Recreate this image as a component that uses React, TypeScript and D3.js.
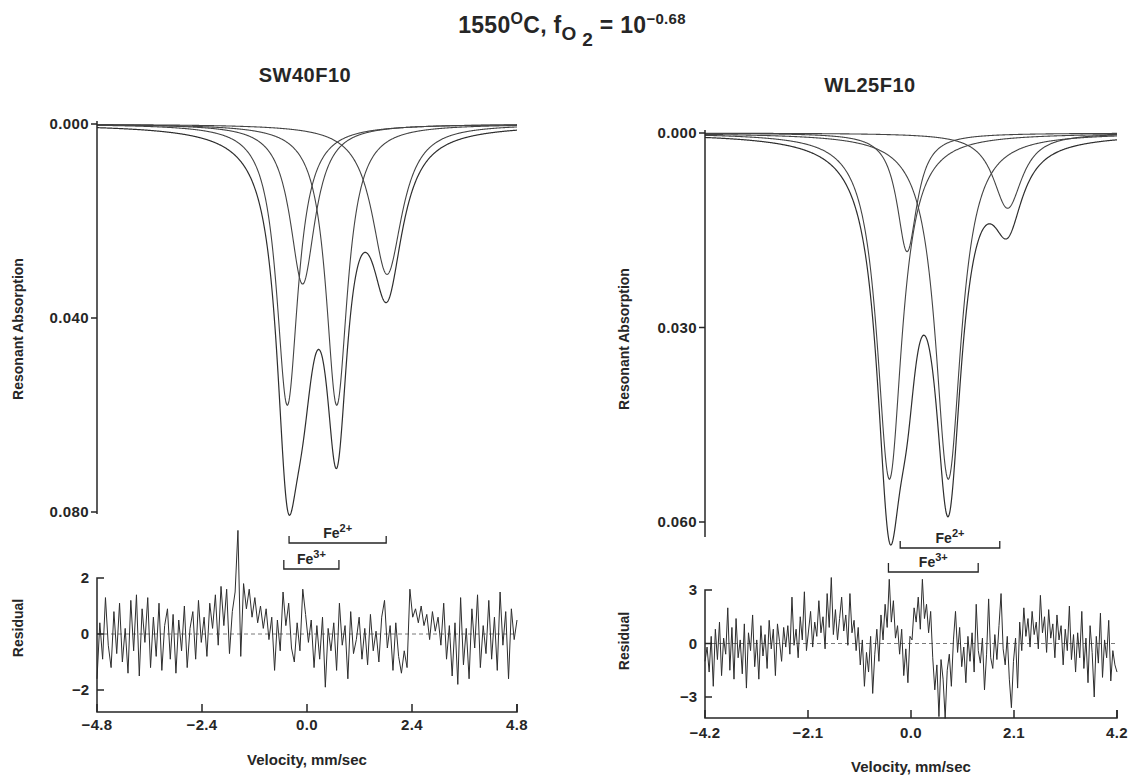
import React, { useRef, useEffect } from "react";
import * as d3 from "d3";

// Lorentzian lines: centre (mm/s), depth, half width (mm/s)
const swCentres = [-0.45, 0.68, -0.1, 1.83];
const swDepths = [0.058, 0.058, 0.033, 0.031];
const swWidths = [0.3, 0.3, 0.35, 0.42];

const wlCentres = [-0.44, 0.76, -0.08, 1.97];
const wlDepths = [0.0534, 0.0534, 0.0183, 0.0116];
const wlWidths = [0.31, 0.32, 0.25, 0.36];

// residuals, evenly spaced over the velocity range
const swResidual = [
  -1.6, 0.4, -0.9, 1.3, -0.4, -1.2, 0.8, -0.7, 1.1, -1.0,
  0.2, -1.4, 1.2, -0.6, 1.4, -1.5, 0.9, -0.3, 1.3, -1.2,
  0.6, -0.8, 1.1, -1.3, 0.3, 0.9, -0.9, 0.7, -1.4, 0.5,
  -0.6, 1.0, -1.2, 0.2, 0.8, -0.9, 1.2, -0.3, 0.6, -0.8,
  1.1, 0.2, 1.4, -0.4, 1.7, 0.3, 1.6, -0.7, 0.8, 1.5,
  3.7, -0.8, 1.8, 0.9, 1.6, 0.6, 1.3, 0.4, 1.0, 0.2,
  0.9, -0.2, 0.6, -1.3, 0.5, -0.6, 1.5, 0.3, 1.1, -0.5,
  -1.0, 0.4, -0.6, 1.6, 0.7, -0.3, 0.5, -1.2, 0.3, -0.9,
  0.6, -1.9, 0.2, -0.6, 0.4, -1.3, 1.1, -0.4, 0.3, -1.6,
  0.8, -0.7, -0.2, 0.6, -0.9, 0.2, -1.1, 0.7, -0.6, 0.1,
  -1.0, 0.6, 1.2, -0.5, 0.3, -1.3, 0.4, -0.8, -1.4, -0.6,
  -1.2, 1.6, 0.6, 0.9, 0.4, 1.0, 0.3, 0.7, -0.2, 0.8,
  0.1, 0.6, -0.4, 1.1, -0.9, 0.3, -1.5, 0.4, -1.8, 1.3,
  -1.1, 0.2, -1.6, 0.9, -0.5, 1.4, -1.2, 0.3, -0.7, 1.2,
  -0.9, 0.6, -1.3, 1.5, -0.4, 0.8, -1.6, 0.9, -0.2, 0.5,
];

const wlResidual = [
  -1.0, -0.2, -1.6, 0.4, -2.4, 0.8, -0.9, 1.2, -1.8, 0.3,
  -0.6, 2.0, -1.5, 0.9, -2.0, 1.4, -0.8, 0.2, -1.7, 1.1,
  -2.5, 0.6, -0.4, 1.6, -1.3, 0.2, -2.0, 1.0, -0.7, 0.5,
  -1.4, 1.3, -0.3, 0.8, -1.8, 1.1, 0.1, -1.0, 0.9, -0.2,
  1.0, -0.6, 2.6, -0.1, 0.8, -0.8, 1.5, 0.2, 2.9, -0.4,
  0.7, 1.8, -0.2, 1.2, 0.4, 2.4, 0.6, 1.5, -0.3, 2.8,
  0.9, 3.7, 0.5, 1.9, 0.2, 1.4, 2.6, 0.7, 1.6, -0.1,
  2.8, 0.6, 1.3, -0.4, 0.9, -1.2, 0.2, -2.4, -0.5, -1.6,
  0.4, -2.8, -0.6, 0.8, -1.0, 1.6, 0.2, 2.2, 0.9, 3.6,
  1.2, 2.4, 0.3, 1.0, -0.6, 0.8, -1.8, -0.3, -2.2, 0.4,
  0.2, 2.0, 1.2, 2.6, 0.8, 3.6, 1.4, 2.2, 0.6, 1.8,
  -0.8, -2.6, -1.2, -4.1, -0.9, -2.0, -4.2, -1.5, -0.6, -2.4,
  0.2, 1.8, -0.5, 0.9, -1.3, -0.2, -2.2, 0.4, -1.0, 0.6,
  -1.6, 2.2, -0.4, -1.1, 0.3, -2.6, -0.6, 2.5, -0.8, -1.4,
  0.5, -0.9, 1.0, 2.8, -0.3, -1.2, 0.4, -2.0, -3.6, -1.0,
  0.3, -2.5, 1.2, -0.4, 2.0, 0.4, 1.4, -0.2, 1.8, 0.5,
  1.2, -0.3, 2.7, 0.6, 1.5, -0.5, 1.9, 0.3, 1.1, -0.8,
  1.6, 0.2, 1.0, -1.2, 0.8, -0.4, 2.1, -0.9, 0.5, -1.6,
  0.6, -0.8, 1.8, -1.4, 0.3, -2.2, 1.0, -0.5, -3.0, 0.4,
  -1.1, 1.7, -1.9, 0.2, -0.8, 1.3, -2.1, -0.4, -1.2, -1.6,
];

const swVelTicks = [-4.8, -2.4, 0, 2.4, 4.8];
const wlVelTicks = [-4.2, -2.1, 0, 2.1, 4.2];
const swAbsTicks = [0, 0.04, 0.08];
const wlAbsTicks = [0, 0.03, 0.06];
const swResTicks = [-2, 0, 2];
const wlResTicks = [-3, 0, 3];

// Fe2+ / Fe3+ doublet brackets (velocity from, to)
const swFe2 = [-0.41, 1.81];
const swFe3 = [-0.53, 0.73];
const wlFe2 = [-0.22, 1.81];
const wlFe3 = [-0.46, 1.37];

const FONT = "'Liberation Sans', Arial, Helvetica, sans-serif";
const INK = "#262626";

const panels = [
  {
    name: "SW40F10", titleX: 305, titleY: 82,
    x0: 97, x1: 517, vmin: -4.8, vmax: 4.8, velTicks: swVelTicks,
    centres: swCentres, depths: swDepths, widths: swWidths,
    absTop: 124, absBot: 512, absMax: 0.08, absTicks: swAbsTicks, absAxisEnd: 514,
    resid: swResidual, resTop: 578, resBot: 690, resMax: 2, resTicks: swResTicks,
    resAxisBot: 712, tickLabelY: 730, velY: 765,
    absLabelX: 23, absLabelY: 329, resLabelY: 628,
    fe2: swFe2, fe2Y: 543, fe3: swFe3, fe3Y: 569,
  },
  {
    name: "WL25F10", titleX: 870, titleY: 92,
    x0: 705, x1: 1117, vmin: -4.2, vmax: 4.2, velTicks: wlVelTicks,
    centres: wlCentres, depths: wlDepths, widths: wlWidths,
    absTop: 133, absBot: 522, absMax: 0.06, absTicks: wlAbsTicks, absAxisEnd: 537,
    resid: wlResidual, resTop: 590, resBot: 697, resMax: 3, resTicks: wlResTicks,
    resAxisBot: 718, tickLabelY: 738, velY: 772,
    absLabelX: 629, absLabelY: 339, resLabelY: 641,
    fe2: wlFe2, fe2Y: 548, fe3: wlFe3, fe3Y: 572,
  },
];

const App = () => {
  const svgRef = useRef<SVGSVGElement>(null);

  useEffect(() => {
    const svg = d3.select(svgRef.current);
    svg.selectAll("*").remove();

    svg.append("rect").attr("width", 1133).attr("height", 776).attr("fill", "#fff");

    // main title
    const title = svg
      .append("text")
      .attr("x", 572)
      .attr("y", 33)
      .attr("text-anchor", "middle")
      .attr("font-family", FONT)
      .attr("font-weight", "bold")
      .attr("font-size", 23)
      .attr("letter-spacing", 0.3)
      .attr("fill", INK);
    title.append("tspan").text("1550");
    title.append("tspan").attr("dy", -9).attr("font-size", 16).text("O");
    title.append("tspan").attr("dy", 9).text("C, f");
    title.append("tspan").attr("dy", 7).attr("font-size", 19).text("O");
    title.append("tspan").attr("dy", 6).attr("font-size", 19).text(" 2");
    title.append("tspan").attr("dy", -13).text(" = 10");
    title.append("tspan").attr("dy", -9).attr("font-size", 15).text("−0.68");

    panels.forEach((p) => {
      const g = svg.append("g");
      const x = d3.scaleLinear().domain([p.vmin, p.vmax]).range([p.x0, p.x1]);
      const yAbs = d3.scaleLinear().domain([0, p.absMax]).range([p.absTop, p.absBot]);
      const yRes = d3.scaleLinear().domain([-p.resMax, p.resMax]).range([p.resBot, p.resTop]);

      const text = (tx: number, ty: number, s: string, size: number, anchor = "middle") =>
        g
          .append("text")
          .attr("x", tx)
          .attr("y", ty)
          .attr("text-anchor", anchor)
          .attr("font-family", FONT)
          .attr("font-weight", "bold")
          .attr("font-size", size)
          .attr("fill", INK)
          .text(s);

      text(p.titleX, p.titleY, p.name, 20).attr("letter-spacing", 0.5);

      // ---- absorption spectrum ----
      const vel = d3.range(p.vmin, p.vmax + 0.001, 0.01);
      const lor = (v: number, i: number) =>
        p.depths[i] / (1 + ((v - p.centres[i]) / p.widths[i]) ** 2);

      const line = d3
        .line<number>()
        .x((v) => x(v))
        .curve(d3.curveLinear);

      p.centres.forEach((_, i) => {
        g.append("path")
          .attr("d", line.y((v) => yAbs(lor(v, i)))(vel))
          .attr("fill", "none")
          .attr("stroke", "#444")
          .attr("stroke-width", 1.1);
      });
      g.append("path")
        .attr("d", line.y((v) => yAbs(d3.sum(p.centres, (_, i) => lor(v, i))))(vel))
        .attr("fill", "none")
        .attr("stroke", "#2e2e2e")
        .attr("stroke-width", 1.2);

      // y axis
      g.append("line")
        .attr("x1", p.x0).attr("x2", p.x0)
        .attr("y1", p.absTop - 3).attr("y2", p.absAxisEnd)
        .attr("stroke", INK).attr("stroke-width", 1.5);
      p.absTicks.forEach((t) => {
        g.append("line")
          .attr("x1", p.x0 - 6).attr("x2", p.x0)
          .attr("y1", yAbs(t)).attr("y2", yAbs(t))
          .attr("stroke", INK).attr("stroke-width", 1.5);
        text(p.x0 - 8, yAbs(t) + 5, d3.format(".3f")(t), 15, "end").attr("letter-spacing", 0.4);
      });
      text(0, 0, "Resonant Absorption", 14).attr(
        "transform",
        `translate(${p.absLabelX},${p.absLabelY}) rotate(-90)`
      );

      // Fe2+ and Fe3+ brackets
      const bracket = (span: number[], by: number, sup: string, ticksUp: number) => {
        const xa = x(span[0]);
        const xb = x(span[1]);
        g.append("path")
          .attr("d", `M${xa},${by - ticksUp}V${by}H${xb}V${by - ticksUp}`)
          .attr("fill", "none")
          .attr("stroke", INK)
          .attr("stroke-width", 1.3);
        const t = text((xa + xb) / 2, by - 5, "Fe", 14);
        t.append("tspan").attr("dy", -6).attr("font-size", 11).text(sup);
      };
      bracket(p.fe2, p.fe2Y, "2+", 7);
      bracket(p.fe3, p.fe3Y, "3+", 9);

      // ---- residual ----
      const step = (p.vmax - p.vmin) / (p.resid.length - 1);
      g.append("line")
        .attr("x1", p.x0).attr("x2", p.x1)
        .attr("y1", yRes(0)).attr("y2", yRes(0))
        .attr("stroke", "#555").attr("stroke-width", 0.8)
        .attr("stroke-dasharray", "4,3");
      g.append("path")
        .attr(
          "d",
          d3
            .line<number>()
            .x((_, i) => x(p.vmin + i * step))
            .y((d) => yRes(d))(p.resid)
        )
        .attr("fill", "none")
        .attr("stroke", "#2e2e2e")
        .attr("stroke-width", 1);

      // residual axes
      g.append("path")
        .attr("d", `M${p.x0 + 7},${p.resTop}H${p.x0}V${p.resAxisBot}H${p.x1}V${p.resAxisBot - 8}`)
        .attr("fill", "none")
        .attr("stroke", INK)
        .attr("stroke-width", 1.5);
      p.resTicks.forEach((t) => {
        if (t !== p.resMax) {
          g.append("line")
            .attr("x1", p.x0).attr("x2", p.x0 + 7)
            .attr("y1", yRes(t)).attr("y2", yRes(t))
            .attr("stroke", INK).attr("stroke-width", 1.5);
        }
        text(p.x0 - 8, yRes(t) + 5, d3.format("d")(t), 15, "end");
      });
      p.velTicks.forEach((t) => {
        g.append("line")
          .attr("x1", x(t)).attr("x2", x(t))
          .attr("y1", p.resAxisBot).attr("y2", p.resAxisBot - 8)
          .attr("stroke", INK).attr("stroke-width", 1.5);
        text(x(t), p.tickLabelY, d3.format(".1f")(t), 15).attr("letter-spacing", 0.3);
      });
      text(0, 0, "Residual", 14).attr(
        "transform",
        `translate(${p.absLabelX},${p.resLabelY}) rotate(-90)`
      );
      text((p.x0 + p.x1) / 2, p.velY, "Velocity, mm/sec", 15);
    });
  }, []);

  return (
    <svg
      ref={svgRef}
      width={1133}
      height={776}
      style={{ position: "absolute", left: 0, top: 0, display: "block" }}
    ></svg>
  );
};

export default App;
